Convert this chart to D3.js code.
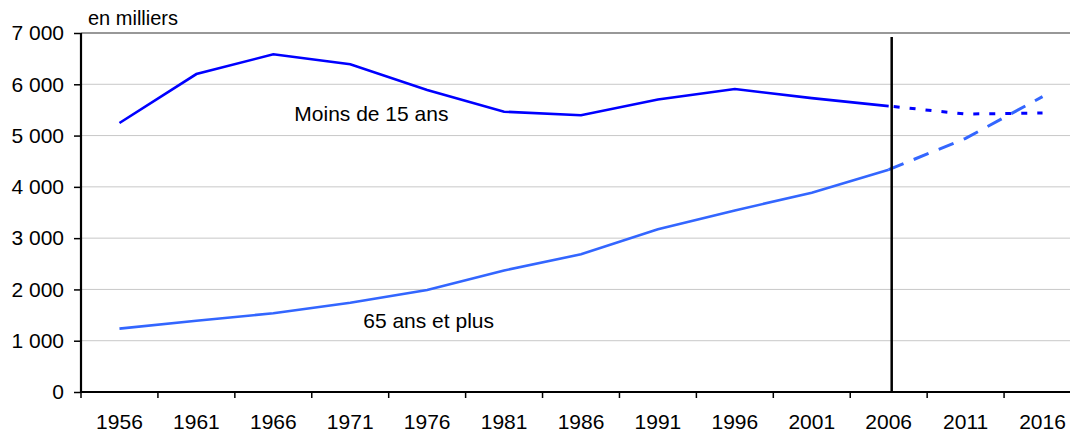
<!DOCTYPE html>
<html>
<head>
<meta charset="utf-8">
<script src="https://cdn.jsdelivr.net/npm/d3@7"></script>
<style>
  body { margin: 0; background: #fff; }
  text { font-family: "Liberation Sans", Arial, sans-serif; fill: #000; }
</style>
</head>
<body>
<div id="chart"></div>
<script>
const years = ["1956", "1961", "1966", "1971", "1976", "1981", "1986", "1991", "1996", "2001", "2006", "2011", "2016"];
const histYears = years.slice(0, 11);
const moins15 = [5245, 6200, 6585, 6390, 5890, 5465, 5395, 5705, 5908, 5730, 5575];
const plus65 = [1235, 1390, 1535, 1740, 1990, 2370, 2685, 3175, 3540, 3886, 4335];
const projYears = ["2006", "2011", "2016"];
const moins15Proj = [5575, 5420, 5440];
const plus65Proj = [4335, 4945, 5760];
const yTicks = [0, 1000, 2000, 3000, 4000, 5000, 6000, 7000];

const width = 1070;
const height = 435;
const margin = { top: 33, left: 81, bottom: 43 };

const svg = d3.select("#chart")
              .append("svg")
              .attr("width", width)
              .attr("height", height);

// Scales
const xScale = d3.scaleBand()
                 .domain(years)
                 .range([margin.left, margin.left + 1000]);

const yScale = d3.scaleLinear()
                 .domain([0, 7000])
                 .range([height - margin.bottom, margin.top]);

const cx = d => xScale(d) + xScale.bandwidth() / 2;
const fr = d3.formatLocale({ decimal: ",", thousands: " ", grouping: [3], currency: ["", ""] });

// Gridlines
svg.append("g")
   .selectAll("line")
   .data(yTicks.filter(v => v > 0 && v < 7000))
   .enter()
   .append("line")
   .attr("x1", margin.left)
   .attr("x2", width)
   .attr("y1", d => yScale(d))
   .attr("y2", d => yScale(d))
   .attr("stroke", "#c8c8c8")
   .attr("stroke-width", 1);

// top frame line
svg.append("line")
   .attr("x1", margin.left).attr("x2", width)
   .attr("y1", yScale(7000)).attr("y2", yScale(7000))
   .attr("stroke", "#333").attr("stroke-width", 1.2);

// Axes
const yAxis = svg.append("g")
   .attr("transform", `translate(${margin.left},0)`)
   .call(d3.axisLeft(yScale).tickValues(yTicks).tickSize(7).tickPadding(10).tickFormat(fr.format(",")));
yAxis.select(".domain").remove();
yAxis.selectAll("line").attr("stroke", "#000").attr("stroke-width", 1.5);
yAxis.selectAll("text").style("font-size", "21px");

const xAxis = svg.append("g")
   .attr("transform", `translate(0,${yScale(0)})`)
   .call(d3.axisBottom(xScale).tickSize(0).tickPadding(22));
xAxis.select(".domain").remove();
xAxis.selectAll("text").style("font-size", "21px");

// ticks on band boundaries
svg.append("g")
   .selectAll("line")
   .data(years)
   .enter()
   .append("line")
   .attr("x1", d => xScale(d))
   .attr("x2", d => xScale(d))
   .attr("y1", yScale(0))
   .attr("y2", yScale(0) + 6)
   .attr("stroke", "#000")
   .attr("stroke-width", 1.5);

svg.append("line")
   .attr("x1", margin.left).attr("x2", margin.left)
   .attr("y1", yScale(7000)).attr("y2", yScale(0) + 1)
   .attr("stroke", "#000").attr("stroke-width", 2.2);
svg.append("line")
   .attr("x1", margin.left - 1).attr("x2", width)
   .attr("y1", yScale(0)).attr("y2", yScale(0))
   .attr("stroke", "#000").attr("stroke-width", 2.2);

// Lines
const line = d3.line()
               .x(d => cx(d[0]))
               .y(d => yScale(d[1]));

svg.append("path")
   .datum(d3.zip(histYears, moins15))
   .attr("d", line)
   .attr("fill", "none")
   .attr("stroke", "#0000ff")
   .attr("stroke-width", 2.6);

svg.append("path")
   .datum(d3.zip(histYears, plus65))
   .attr("d", line)
   .attr("fill", "none")
   .attr("stroke", "#3366ff")
   .attr("stroke-width", 2.6);

svg.append("path")
   .datum(d3.zip(projYears, moins15Proj))
   .attr("d", line)
   .attr("fill", "none")
   .attr("stroke", "#0000ff")
   .attr("stroke-width", 3)
   .attr("stroke-dasharray", "0,5,6,5");

svg.append("path")
   .datum(d3.zip(projYears, plus65Proj))
   .attr("d", line)
   .attr("fill", "none")
   .attr("stroke", "#3366ff")
   .attr("stroke-width", 3)
   .attr("stroke-dasharray", "16,11");

// 2006 separator
svg.append("line")
   .attr("x1", cx("2006") + 3).attr("x2", cx("2006") + 3)
   .attr("y1", yScale(6920)).attr("y2", yScale(0))
   .attr("stroke", "#000")
   .attr("stroke-width", 2.5);

// Labels
svg.append("text")
   .attr("x", 88)
   .attr("y", 25)
   .style("font-size", "20px")
   .text("en milliers");

svg.append("text")
   .attr("x", cx("1966") + 21)
   .attr("y", yScale(5290))
   .style("font-size", "21px")
   .text("Moins de 15 ans");

svg.append("text")
   .attr("x", cx("1971") + 13)
   .attr("y", yScale(1250))
   .style("font-size", "21px")
   .text("65 ans et plus");
</script>
</body>
</html>
